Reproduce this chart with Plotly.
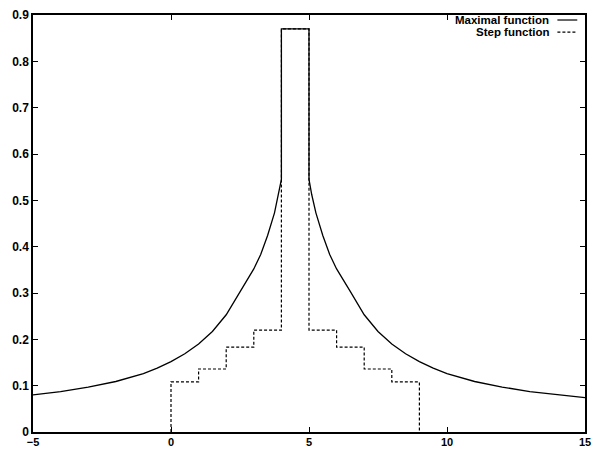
import plotly.graph_objects as go

# Step function: value on each unit interval [k, k+1), zero outside [0, 9)
step_x = [0, 0, 1, 2, 3, 4, 5, 6, 7, 8, 9]
step_y = [0, 0.108, 0.136, 0.183, 0.22, 0.87, 0.22, 0.183, 0.136, 0.108, 0]

# Maximal function of the step function (symmetric about x = 4.5)
maximal_x = [-5, -4, -3, -2, -1, -0.5, 0, 0.5, 1, 1.5, 2, 2.5, 3, 3.25, 3.5, 3.75, 3.9, 4,
             4, 5,
             5, 5.1, 5.25, 5.5, 5.75, 6, 6.5, 7, 7.5, 8, 8.5, 9, 9.5, 10, 11, 12, 13, 14, 15]
maximal_y = [0.080, 0.087, 0.097, 0.109, 0.126, 0.138, 0.152, 0.169, 0.190, 0.217, 0.253, 0.303,
             0.352, 0.383, 0.424, 0.473, 0.512, 0.545,
             0.87, 0.87,
             0.545, 0.512, 0.473, 0.424, 0.383, 0.352, 0.303, 0.253, 0.217, 0.190, 0.169,
             0.152, 0.138, 0.126, 0.109, 0.097, 0.087, 0.080, 0.074]

x_ticks = [-5, 0, 5, 10, 15]
y_ticks = [0, 0.1, 0.2, 0.3, 0.4, 0.5, 0.6, 0.7, 0.8, 0.9]

legend_labels = ["Maximal function", "Step function"]

FONT = "Liberation Sans"

fig = go.Figure()

fig.add_trace(go.Scatter(
    x=step_x, y=step_y, mode="lines", line_shape="hv",
    line=dict(color="black", width=1.2, dash="3px,2px"),
    name=legend_labels[1], showlegend=False,
))
fig.add_trace(go.Scatter(
    x=maximal_x, y=maximal_y, mode="lines",
    line=dict(color="black", width=1.3),
    name=legend_labels[0], showlegend=False,
))

# gnuplot-style key: label right-aligned, line sample to its right
key_rows = [(0.988, "solid"), (0.959, "3px,2px")]
for (ypos, dash), label in zip(key_rows, legend_labels):
    fig.add_annotation(
        xref="paper", yref="paper", x=0.938, y=ypos, text=label,
        showarrow=False, xanchor="right", yanchor="middle",
        font=dict(family=FONT, size=11.5, color="black", weight="bold"),
    )
    fig.add_shape(
        type="line", xref="paper", yref="paper",
        x0=0.950, x1=0.986, y0=ypos, y1=ypos,
        line=dict(color="black", width=1.2, dash=dash),
    )

axis_common = dict(
    showgrid=False, zeroline=False, automargin=False,
    showline=True, linecolor="black", linewidth=1.5, mirror="ticks",
    ticks="inside", ticklen=5, tickwidth=1.2, tickcolor="black",
)

fig.update_xaxes(range=[-5, 15], tickvals=x_ticks, ticklabelstandoff=-1,
                 tickfont=dict(family=FONT, size=11, color="black", weight="bold"),
                 **axis_common)
fig.update_yaxes(range=[0, 0.9], tickvals=y_ticks,
                 tickfont=dict(family=FONT, size=12, color="black", weight="bold"),
                 **axis_common)

fig.update_layout(
    width=592, height=450,
    margin=dict(l=33, r=7, t=15, b=18),
    paper_bgcolor="white", plot_bgcolor="white",
    showlegend=False,
)

fig.write_html("out.html")
